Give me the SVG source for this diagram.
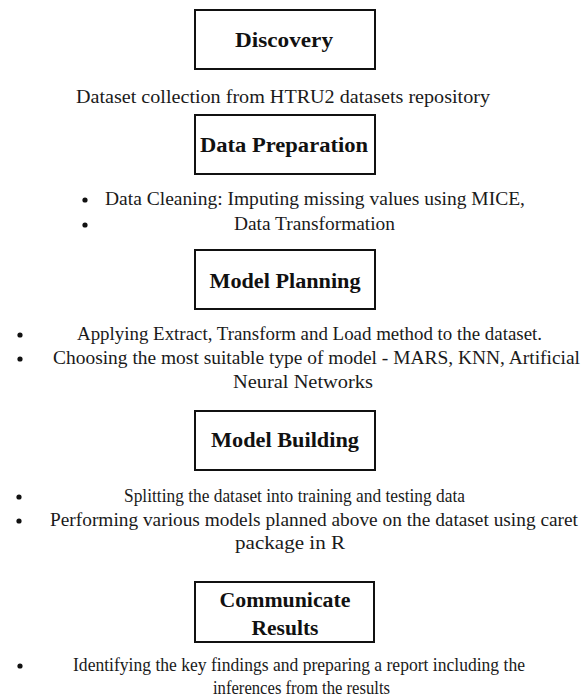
<svg xmlns="http://www.w3.org/2000/svg" width="581" height="697" viewBox="0 0 581 697">
  <style>
    .box { fill: #ffffff; stroke: #111111; stroke-width: 2; }
    .title { font-family: "Liberation Serif", "Times New Roman", serif; font-weight: bold; font-size: 20px; fill: #111111; text-anchor: middle; }
    .body { font-family: "Liberation Serif", "Times New Roman", serif; font-size: 18px; fill: #1a1a1a; }
    .dot { fill: #111111; }
  </style>
  <rect x="0" y="0" width="581" height="697" fill="#ffffff"/>

  <g id="discovery">
    <rect class="box" x="195" y="10" width="180" height="59"/>
    <text class="title" x="284" y="47" textLength="98" lengthAdjust="spacingAndGlyphs">Discovery</text>
    <text class="body" x="76" y="103" textLength="414" lengthAdjust="spacingAndGlyphs">Dataset collection from HTRU2 datasets repository</text>
  </g>

  <g id="data-preparation">
    <rect class="box" x="195" y="115" width="180" height="59"/>
    <text class="title" x="284" y="152" textLength="168" lengthAdjust="spacingAndGlyphs">Data Preparation</text>
    <circle class="dot" cx="85" cy="200" r="2.6"/>
    <circle class="dot" cx="85" cy="225" r="2.6"/>
    <text class="body" x="105" y="205" textLength="420" lengthAdjust="spacingAndGlyphs">Data Cleaning: Imputing missing values using MICE,</text>
    <text class="body" x="234" y="230" textLength="161" lengthAdjust="spacingAndGlyphs">Data Transformation</text>
  </g>

  <g id="model-planning">
    <rect class="box" x="195" y="250" width="180" height="59"/>
    <text class="title" x="285" y="288" textLength="151" lengthAdjust="spacingAndGlyphs">Model Planning</text>
    <circle class="dot" cx="20" cy="335" r="2.6"/>
    <circle class="dot" cx="20" cy="359" r="2.6"/>
    <text class="body" x="77" y="340" textLength="465" lengthAdjust="spacingAndGlyphs">Applying Extract, Transform and Load method to the dataset.</text>
    <text class="body" x="53" y="364" textLength="527" lengthAdjust="spacingAndGlyphs">Choosing the most suitable type of model - MARS, KNN, Artificial</text>
    <text class="body" x="233" y="388" textLength="140" lengthAdjust="spacingAndGlyphs">Neural Networks</text>
  </g>

  <g id="model-building">
    <rect class="box" x="195" y="411" width="180" height="59"/>
    <text class="title" x="285" y="447" textLength="148" lengthAdjust="spacingAndGlyphs">Model Building</text>
    <circle class="dot" cx="19" cy="497" r="2.6"/>
    <circle class="dot" cx="19" cy="521" r="2.6"/>
    <text class="body" x="124" y="502" textLength="341" lengthAdjust="spacingAndGlyphs">Splitting the dataset into training and testing data</text>
    <text class="body" x="50" y="526" textLength="528" lengthAdjust="spacingAndGlyphs">Performing various models planned above on the dataset using caret</text>
    <text class="body" x="235" y="549" textLength="110" lengthAdjust="spacingAndGlyphs">package in R</text>
  </g>

  <g id="communicate-results">
    <rect class="box" x="195" y="582" width="179" height="60"/>
    <text class="title" x="285" y="607" textLength="131" lengthAdjust="spacingAndGlyphs">Communicate</text>
    <text class="title" x="285" y="635" textLength="67" lengthAdjust="spacingAndGlyphs">Results</text>
    <circle class="dot" cx="20" cy="666" r="2.6"/>
    <text class="body" x="73" y="671" textLength="452" lengthAdjust="spacingAndGlyphs">Identifying the key findings and preparing a report including the</text>
    <text class="body" x="213" y="694" textLength="177" lengthAdjust="spacingAndGlyphs">inferences from the results</text>
  </g>
</svg>
